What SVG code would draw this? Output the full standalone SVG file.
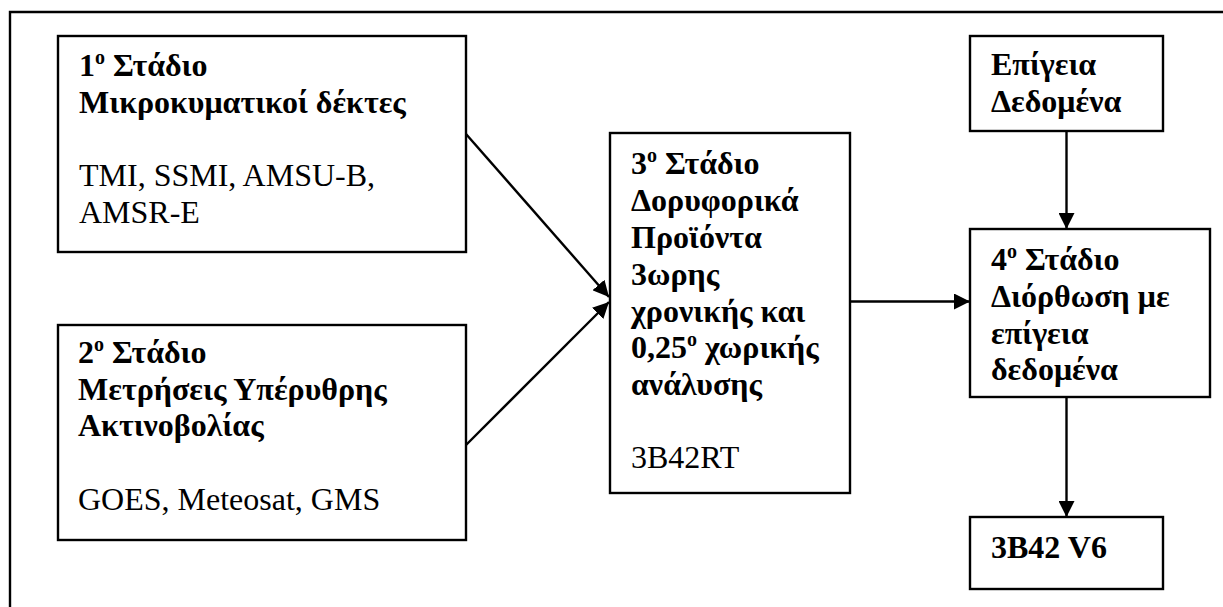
<svg xmlns="http://www.w3.org/2000/svg" width="1223" height="607" viewBox="0 0 1223 607">
<style>
.box{fill:#fff;stroke:#000;stroke-width:2.4}
.t{font-family:"Liberation Serif","Times New Roman",serif;font-size:32px;fill:#000}
.b{font-weight:bold}
.sup{font-size:20px}
.c{fill:none;stroke:#000;stroke-width:2.4}
</style>
<defs>
<marker id="ah" viewBox="0 0 16 16" refX="16" refY="8" markerWidth="16" markerHeight="16" markerUnits="userSpaceOnUse" orient="auto">
<path d="M0,0 L16,8 L0,16 z" fill="#000"/>
</marker>
</defs>
<rect width="1223" height="607" fill="#fff"/>
<path d="M10,607 L10,12 L1223,12" fill="none" stroke="#000" stroke-width="2.4"/>
<g id="connectors">
<path class="c" d="M466,134 L609,297" marker-end="url(#ah)"/>
<path class="c" d="M466,445 L609,302" marker-end="url(#ah)"/>
<path class="c" d="M850,301.5 L970,301.5" marker-end="url(#ah)"/>
<path class="c" d="M1066.5,131 L1066.5,229" marker-end="url(#ah)"/>
<path class="c" d="M1066.5,397 L1066.5,517" marker-end="url(#ah)"/>
</g>
<g id="stage1">
<rect class="box" x="58" y="36" width="408" height="216"/>
<text class="t b" x="79" y="76">1<tspan class="sup" dy="-12">o</tspan><tspan dy="12"> Στάδιο</tspan></text>
<text class="t b" x="79" y="113">Μικροκυματικοί δέκτες</text>
<text class="t" x="79" y="186">TMI, SSMI, AMSU-B,</text>
<text class="t" x="79" y="223">AMSR-E</text>
</g>
<g id="stage2">
<rect class="box" x="58" y="325" width="408" height="215"/>
<text class="t b" x="78" y="363">2<tspan class="sup" dy="-12">o</tspan><tspan dy="12"> Στάδιο</tspan></text>
<text class="t b" x="78" y="400">Μετρήσεις Υπέρυθρης</text>
<text class="t b" x="78" y="436">Ακτινοβολίας</text>
<text class="t" x="78" y="510">GOES, Meteosat, GMS</text>
</g>
<g id="stage3">
<rect class="box" x="610" y="133" width="240" height="360"/>
<text class="t b" x="631" y="174">3<tspan class="sup" dy="-12">o</tspan><tspan dy="12"> Στάδιο</tspan></text>
<text class="t b" x="631" y="211">Δορυφορικά</text>
<text class="t b" x="631" y="248">Προϊόντα</text>
<text class="t b" x="631" y="285">3ωρης</text>
<text class="t b" x="631" y="322">χρονικής και</text>
<text class="t b" x="631" y="358">0,25<tspan class="sup" dy="-12">o</tspan><tspan dy="12"> χωρικής</tspan></text>
<text class="t b" x="631" y="395">ανάλυσης</text>
<text class="t" x="631" y="468">3B42RT</text>
</g>
<g id="ground">
<rect class="box" x="970" y="36" width="193" height="95"/>
<text class="t b" x="991" y="75">Επίγεια</text>
<text class="t b" x="991" y="112">Δεδομένα</text>
</g>
<g id="stage4">
<rect class="box" x="970" y="229" width="240" height="168"/>
<text class="t b" x="991" y="270">4<tspan class="sup" dy="-12">o</tspan><tspan dy="12"> Στάδιο</tspan></text>
<text class="t b" x="991" y="307">Διόρθωση με</text>
<text class="t b" x="991" y="344">επίγεια</text>
<text class="t b" x="991" y="380">δεδομένα</text>
</g>
<g id="output">
<rect class="box" x="970" y="517" width="193" height="72"/>
<text class="t b" x="991" y="558">3B42 V6</text>
</g>
</svg>
